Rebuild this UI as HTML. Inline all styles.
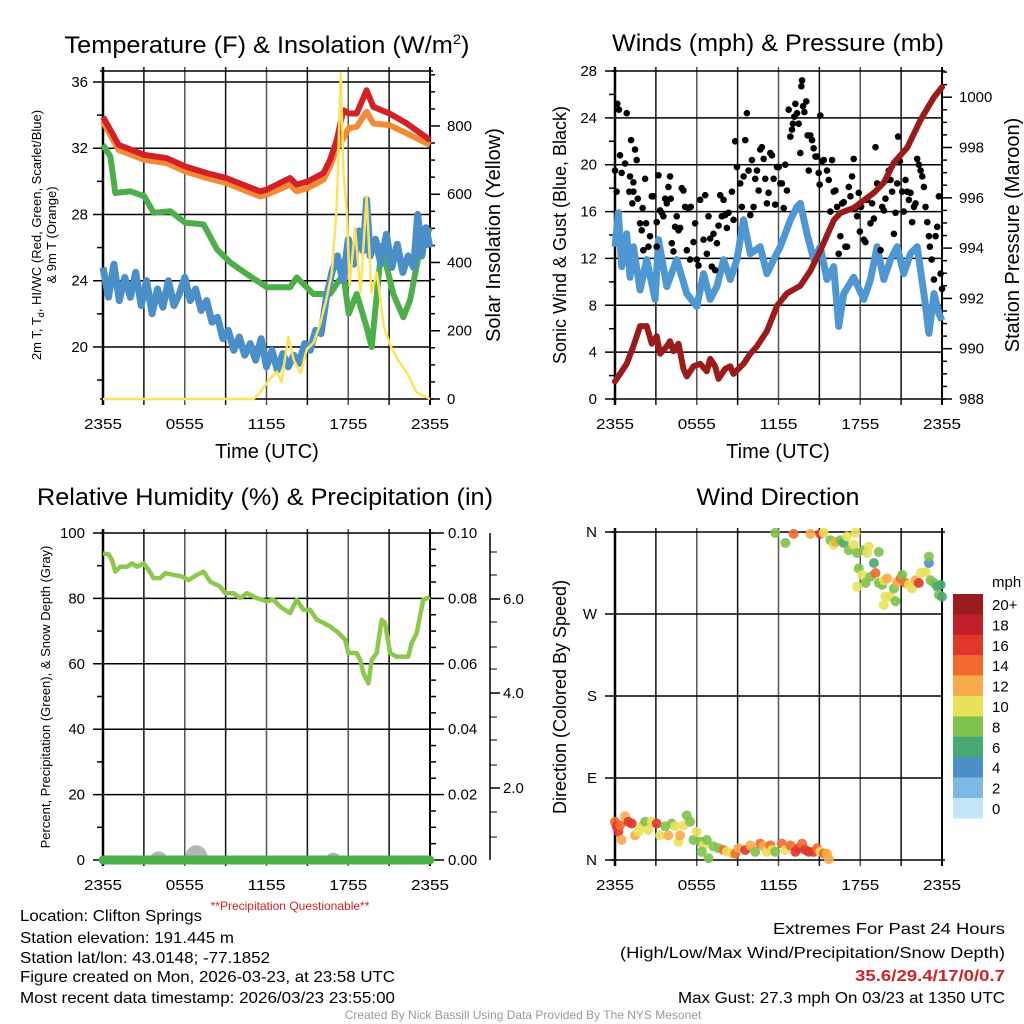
<!DOCTYPE html>
<html><head><meta charset="utf-8"><style>
html,body{margin:0;padding:0;background:#fff;}
svg{display:block;font-family:"Liberation Sans",Arial,sans-serif;}
</style></head><body>
<svg id="fig" width="1024" height="1024" viewBox="0 0 1024 1024" xmlns="http://www.w3.org/2000/svg">
<rect x="0" y="0" width="1024" height="1024" fill="#fff"/>
<!-- titles -->
<text x="267" y="53" font-size="24" text-anchor="middle" textLength="405" lengthAdjust="spacingAndGlyphs">Temperature (F) &amp; Insolation (W/m<tspan font-size="14" dy="-9">2</tspan><tspan dy="9">)</tspan></text>
<text x="778" y="51" font-size="24" text-anchor="middle" textLength="332" lengthAdjust="spacingAndGlyphs">Winds (mph) &amp; Pressure (mb)</text>
<text x="265" y="505" font-size="24" text-anchor="middle" textLength="456" lengthAdjust="spacingAndGlyphs">Relative Humidity (%) &amp; Precipitation (in)</text>
<text x="778" y="505" font-size="24" text-anchor="middle" textLength="163" lengthAdjust="spacingAndGlyphs">Wind Direction</text>
<!-- axis titles -->
<text transform="translate(41,235) rotate(-90)" font-size="13" text-anchor="middle">2m T, T<tspan font-size="9" dy="3">d</tspan><tspan dy="-3">, HI/WC (Red, Green, Scarlet/Blue)</tspan></text>
<text transform="translate(56,235) rotate(-90)" font-size="13" text-anchor="middle">&amp; 9m T (Orange)</text>
<text transform="translate(500,235) rotate(-90)" font-size="20" text-anchor="middle">Solar Insolation (Yellow)</text>
<text x="267" y="458" font-size="20" text-anchor="middle">Time (UTC)</text>
<text transform="translate(566,235) rotate(-90)" font-size="18" text-anchor="middle">Sonic Wind &amp; Gust (Blue, Black)</text>
<text transform="translate(1019,235) rotate(-90)" font-size="20" text-anchor="middle">Station Pressure (Maroon)</text>
<text x="778" y="458" font-size="20" text-anchor="middle">Time (UTC)</text>
<text transform="translate(50,697) rotate(-90)" font-size="13" text-anchor="middle">Percent, Precipitation (Green), &amp; Snow Depth (Gray)</text>
<text transform="translate(566,697) rotate(-90)" font-size="18" text-anchor="middle">Direction (Colored By Speed)</text>
<!-- footer -->
<text x="290" y="910" font-size="12" fill="#d42027" text-anchor="middle">**Precipitation Questionable**</text>
<g font-size="16">
<text x="20" y="921" textLength="182" lengthAdjust="spacingAndGlyphs">Location: Clifton Springs</text>
<text x="20" y="943" textLength="214" lengthAdjust="spacingAndGlyphs">Station elevation: 191.445 m</text>
<text x="20" y="963" textLength="250" lengthAdjust="spacingAndGlyphs">Station lat/lon: 43.0148; -77.1852</text>
<text x="20" y="982" textLength="375" lengthAdjust="spacingAndGlyphs">Figure created on Mon, 2026-03-23, at 23:58 UTC</text>
<text x="20" y="1003" textLength="375" lengthAdjust="spacingAndGlyphs">Most recent data timestamp: 2026/03/23 23:55:00</text>
</g>
<g font-size="16" text-anchor="end">
<text x="1005" y="934" textLength="232" lengthAdjust="spacingAndGlyphs">Extremes For Past 24 Hours</text>
<text x="1005" y="958" textLength="385" lengthAdjust="spacingAndGlyphs">(High/Low/Max Wind/Precipitation/Snow Depth)</text>
<text x="1005" y="981" font-weight="bold" fill="#d42027" textLength="150" lengthAdjust="spacingAndGlyphs">35.6/29.4/17/0/0.7</text>
<text x="1005" y="1003" textLength="327" lengthAdjust="spacingAndGlyphs">Max Gust: 27.3 mph On 03/23 at 1350 UTC</text>
</g>
<text x="523" y="1019" font-size="12" fill="#999" text-anchor="middle">Created By Nick Bassill Using Data Provided By The NYS Mesonet</text>
<text x="992" y="587" font-size="15">mph</text>
</svg>
<script>
// ---- data ----
const xTickLabels = ["2355","0555","1155","1755","2355"];
const tempTicks = [36,32,28,24,20];
const solarTicks = [800,600,400,200,0];
const windTicks = [28,24,20,16,12,8,4,0];
const presTicks = [1000,998,996,994,992,990,988];
const rhTicks = [100,80,60,40,20,0];
const precipTicks = ["0.10","0.08","0.06","0.04","0.02","0.00"];
const snowAxisTicks = ["6.0","4.0","2.0"];
const dirTicks = ["N","W","S","E","N"];
const speedBinLabels = ["20+","18","16","14","12","10","8","6","4","2","0"];
const speedBinColors = ["#9b1b1f","#c1202b","#e0362b","#f26a2d","#f9aa4a","#e8e15a","#7dc24c","#48a872","#4a8fc7","#7db9e3","#c3e5f8"];

const redHours = [0,0.54,1.15,3.03,4.69,6.04,7.62,9.04,10.56,11.53,12.02,13.73,14.22,15.03,16.18,16.67,17.16,17.64,18.03,18.62,19.35,19.84,21.02,22.29,24];
const redTemp = [33.9,33.1,32.2,31.6,31.4,30.9,30.5,30.2,29.7,29.4,29.5,30.2,29.8,30.0,30.5,31.3,32.5,34.3,34.1,34.1,35.5,34.5,34.1,33.5,32.5];
const orangeTemp = [33.6,32.8,31.9,31.3,31.1,30.6,30.2,29.9,29.4,29.1,29.2,29.8,29.4,29.6,30.1,30.9,32.0,32.6,33.2,33.3,34.2,33.5,33.4,32.9,32.2];
const greenHours = [0,0.54,0.9,2.0,3.03,3.72,4.94,6.04,7.38,8.36,9.34,10.56,12.02,13.73,14.22,15.45,16.67,17.64,18.03,18.62,19.35,19.72,20.45,21.31,22.04,22.53,23.26,24];
const greenTemp = [32.2,31.5,29.3,29.4,29.1,28.1,28.2,27.5,27.4,25.9,25.1,24.4,23.6,23.6,24.2,23.2,23.2,24.4,22.0,23.2,21.2,20.0,26.1,23.2,21.8,22.8,25.9,27.2];
const blueHours = [0,0.4,0.8,1.2,1.6,2.0,2.4,2.8,3.2,3.6,4.0,4.4,4.8,5.2,5.6,6.0,6.4,6.8,7.2,7.6,8.0,8.4,8.8,9.2,9.6,10.0,10.4,10.8,11.2,11.6,12.0,12.4,12.8,13.2,13.6,14.0,14.4,14.8,15.2,15.6,16.0,16.4,16.8,17.2,17.6,18.0,18.4,18.8,19.1,19.35,19.6,20.0,20.4,20.8,21.2,21.6,22.0,22.4,22.8,23.1,23.4,23.7,24];
const blueTemp = [24.8,23.0,25.0,22.8,24.2,23.0,24.5,22.5,24.0,22.0,23.5,22.4,24.0,22.5,23.2,24.2,22.8,23.5,22.2,22.8,21.5,21.8,20.5,21.0,19.8,20.6,19.5,20.2,19.2,20.5,18.8,19.8,18.6,19.6,18.8,19.5,19.0,20.2,19.8,21.0,20.8,23.0,24.5,25.5,24.0,26.5,25.0,27.0,25.8,28.9,25.5,26.5,25.0,26.8,24.8,26.2,24.5,25.5,24.8,28.0,25.5,27.2,26.0];
const solarHours = [0,11.05,11.5,12.27,12.76,13.1,13.6,14.0,14.5,14.96,15.45,15.9,16.4,16.8,17.16,17.45,17.65,17.9,18.1,18.5,18.9,19.35,19.7,20.1,20.6,21.1,21.6,22.3,23.0,24];
const solarVals = [0,0,18,60,80,50,183,114,75,146,165,214,292,370,566,954,664,546,332,500,312,593,312,370,214,156,117,78,20,0];

const windHours = [0,0.25,0.49,0.86,1.10,1.35,1.84,2.33,2.94,3.19,3.80,4.53,5.27,6.0,6.5,6.99,7.48,7.97,8.46,8.95,9.44,9.93,10.66,11.15,11.64,12.13,12.87,13.36,13.60,14.09,14.58,15.07,15.56,16.05,16.42,16.79,17.52,18.26,18.75,19.24,19.73,20.22,20.71,21.20,21.69,22.18,22.67,23.04,23.41,23.77,24];
const windMph = [13.0,15.9,11.3,14.1,10.4,13.0,9.3,11.9,8.5,13.6,9.6,11.9,9.0,7.9,10.7,8.5,9.6,11.9,10.2,11.9,15.3,12.4,13.0,10.7,11.9,13.0,15.3,16.4,16.7,14.1,11.9,13.0,10.2,11.3,6.2,9.0,10.4,8.5,10.2,13.0,10.2,11.9,13.0,10.7,12.4,13.0,9.0,5.6,9.0,7.3,6.7];
const gustHours = [0.0,0.12,0.17,0.29,0.37,0.49,0.74,0.86,1.05,1.10,1.18,1.27,1.35,1.35,1.47,1.59,1.67,1.84,1.96,2.03,2.08,2.21,2.28,2.45,2.57,2.70,2.82,3.06,3.06,3.19,3.31,3.43,3.55,3.68,3.80,3.92,4.04,4.09,4.17,4.29,4.41,4.53,4.66,4.78,4.90,5.02,5.15,5.27,5.39,5.51,5.56,5.76,5.88,6.00,6.13,6.25,6.50,6.62,6.74,6.86,6.99,7.11,7.23,7.35,7.48,7.60,7.72,7.84,7.97,8.09,8.21,8.33,8.58,8.70,8.82,8.95,9.19,9.31,9.44,9.56,9.68,9.80,9.93,10.05,10.17,10.29,10.42,10.54,10.66,10.78,10.91,11.03,11.15,11.27,11.40,11.52,11.64,11.76,11.89,12.01,12.13,12.25,12.38,12.50,12.62,12.75,12.87,12.99,13.06,13.16,13.24,13.36,13.48,13.60,13.68,13.73,13.80,13.90,14.04,14.14,14.22,14.34,14.46,14.58,14.71,14.83,14.95,15.02,15.07,15.20,15.32,15.56,15.69,15.81,15.93,16.05,16.18,16.30,16.42,16.54,16.67,16.79,16.91,17.03,17.16,17.28,17.40,17.52,17.65,17.77,17.89,17.97,18.06,18.26,18.38,18.50,18.75,18.87,19.00,19.12,19.24,19.36,19.49,19.61,19.73,19.85,19.98,20.10,20.22,20.34,20.47,20.59,20.71,20.78,20.91,21.08,21.20,21.32,21.45,21.57,21.69,21.81,21.94,22.06,22.18,22.30,22.43,22.55,22.67,22.79,22.92,23.04,23.11,23.24,23.41,23.53,23.65,23.77,23.90,24.0];
const gustMph = [19.5,17.7,25.2,24.7,20.8,19.3,20.1,24.4,17.7,19.0,22.1,16.7,18.5,17.7,21.3,20.4,17.1,15.0,14.4,16.3,12.7,18.8,15.0,13.0,13.9,17.3,17.3,15.1,13.0,19.1,16.1,15.9,15.6,17.1,16.7,18.1,19.0,17.1,13.3,12.6,14.7,15.6,14.4,14.6,18.0,17.8,16.4,12.7,16.3,11.9,16.4,13.4,15.0,11.9,11.4,17.0,13.6,17.4,12.4,15.6,13.7,11.3,14.1,11.0,13.3,14.8,17.4,15.6,17.0,15.7,14.6,15.9,17.7,15.3,22.0,19.8,18.4,16.4,19.0,22.1,24.4,19.5,15.7,20.4,16.4,18.8,19.5,17.8,21.3,21.5,20.5,18.8,16.7,17.6,21.0,20.8,18.8,16.6,19.8,19.8,18.4,18.4,16.3,20.0,17.8,24.7,22.4,23.0,23.5,24.1,25.2,24.4,23.5,21.0,26.7,27.2,25.0,24.5,25.4,22.5,19.5,22.5,22.1,21.4,20.7,20.7,19.3,18.3,24.2,20.3,20.4,19.5,18.7,16.0,20.4,17.7,17.8,16.4,12.4,13.9,16.7,16.8,13.0,13.0,18.1,17.3,19.0,20.5,16.3,15.6,17.6,14.3,16.4,13.6,13.4,17.0,15.0,16.7,15.4,21.5,18.4,18.3,12.7,16.4,16.1,17.1,18.7,19.5,18.7,17.7,14.1,15.9,18.4,22.4,20.3,17.7,16.0,18.7,17.7,17.0,17.6,15.1,16.4,16.7,20.5,20.0,19.5,19.0,18.1,16.4,15.1,13.9,13.0,11.9,10.2,13.9,14.7,17.3,10.7,9.4];
const presHours = [0,0.37,0.86,1.35,1.84,2.33,2.70,3.06,3.31,3.80,4.04,4.29,4.66,5.02,5.27,5.76,6.25,6.74,6.99,7.35,7.60,8.09,8.46,8.70,9.44,9.93,10.42,11.15,11.89,12.62,13.60,14.34,15.07,16.05,16.54,17.52,18.26,19.0,19.73,20.47,21.45,22.43,23.41,24];
const presMb = [988.7,989.0,989.4,990.1,990.9,990.9,990.2,990.5,989.8,990.1,990.3,989.9,990.2,989.2,988.9,989.3,989.4,989.1,989.6,989.3,988.8,989.2,989.3,989.0,989.4,989.8,990.1,990.7,991.7,992.2,992.5,993.1,993.9,995.1,995.4,995.6,995.9,996.2,996.6,997.4,998.0,999.1,1000.0,1000.4];

const rhHours = [0,0.42,0.66,0.9,1.27,1.76,2.13,2.49,2.98,3.35,3.71,4.2,4.57,5.18,5.79,6.28,6.89,7.38,7.87,8.6,8.97,9.58,10.07,10.56,11.29,12.02,12.51,13.0,13.73,14.22,14.71,15.2,15.69,16.18,16.67,17.16,17.77,18.01,18.62,18.87,19.11,19.48,19.72,20.09,20.45,20.7,21.07,21.55,22.04,22.41,22.65,23.02,23.51,24];
const rhVals = [93.8,93.5,91.7,88.2,89.7,89.7,90.7,89.7,90.7,88.7,86.2,86.2,87.7,87.2,86.7,85.6,87.2,88.2,85.1,83.6,81.6,81.6,80.1,81.6,80.1,79.1,79.6,77.5,75.5,79.6,76.5,76.5,73.5,72.5,71.4,69.9,67.4,63.3,63.3,61.2,57.1,54.0,61.2,63.3,73.5,72.5,63.3,62.2,62.2,62.2,66.3,69.3,79.6,80.4];
const precipHours = [0,24];
const precipVals = [0,0];
const snowHours = [4.08,6.85,16.9];
const snowVals = [3.5,6.0,3.0];
const snowDurations = [1.25,1.7,1.1];

const dirHours = [0.00,0.12,0.25,0.37,0.49,0.74,0.98,1.23,1.47,1.72,1.96,2.21,2.45,2.70,3.06,3.31,3.68,3.92,4.17,4.41,4.66,4.78,5.02,5.27,5.51,5.76,6.00,6.25,6.50,6.74,6.37,6.86,7.23,7.60,7.97,8.21,8.58,8.82,9.07,9.56,9.93,10.29,10.66,10.91,11.15,11.40,11.52,11.76,12.25,12.50,12.87,13.24,13.48,13.73,13.97,14.22,14.58,14.83,15.07,15.32,15.56,15.69,
 11.76,12.50,13.11,14.34,15.07,15.32,15.81,16.05,16.18,16.54,16.79,17.03,17.16,17.52,17.65,17.77,18.26,18.50,18.63,19.00,19.36,17.89,18.14,18.38,18.75,19.12,19.36,19.61,19.73,19.98,17.77,19.85,20.22,20.59,20.47,19.73,20.71,20.96,21.08,21.32,21.57,21.81,22.06,22.30,22.43,22.79,23.04,23.04,23.16,23.41,23.65,23.90,23.77,24.0];
const dirDeg = [42,37,31,38,22,48,42,40,27,31,37,42,33,42,40,27,37,27,40,37,20,27,38,49,42,22,31,20,16,22,9,2,15,13,11,9,7,7,13,11,16,9,18,15,9,16,11,9,18,11,16,9,13,18,11,9,9,13,9,7,7,1,
 359,348,358,358,358,359,351,346,349,351,348,355,340,346,359,337,340,337,344,326,338,320,313,304,311,315,304,302,307,309,300,289,289,284,298,280,305,309,313,304,302,298,307,304,315,316,326,333,307,304,300,302,291,289];
const dirSpeed = [15,17,17,15,13,13,17,17,13,11,11,9,11,11,17,11,9,13,9,11,11,13,11,9,9,9,11,9,11,9,9,9,9,9,15,11,11,15,13,17,13,9,15,13,11,15,11,9,15,11,15,17,17,15,17,17,17,15,11,15,13,13,
 9,9,15,13,17,11,9,11,13,9,7,11,9,11,11,9,9,11,11,7,9,9,11,9,9,15,9,9,11,13,11,11,11,9,9,11,13,15,9,15,11,11,13,17,11,11,5,9,9,9,7,7,9,7];

// ---- helpers ----
const NS = "http://www.w3.org/2000/svg";
const svg = document.getElementById("fig");
function el(tag, attrs, parent){ const e=document.createElementNS(NS,tag); for(const k in attrs) e.setAttribute(k,attrs[k]); (parent||svg).appendChild(e); return e; }
function txt(x,y,s,size,anchor,parent){ const t=el("text",{x:x,y:y,"font-size":size,"text-anchor":anchor},parent); t.textContent=s; return t; }
function linePath(xs,ys){ return xs.map((x,i)=>(i?"L":"M")+x.toFixed(1)+","+ys[i].toFixed(1)).join(""); }

const P1={x0:103,x1:430,y0:71,y1:399}, P2={x0:615,x1:942,y0:71,y1:399}, P3={x0:103,x1:430,y0:533,y1:860}, P4={x0:615,x1:942,y0:532,y1:860};
function xS(P,h){ return P.x0 + h/24*(P.x1-P.x0); }
const yTemp = v => 82 + (36-v)*16.56;
const ySolar = v => 399 - v*0.3413;
const yWind = v => 399 - v*11.714;
const yPres = p => 399 - (p-988)*25.15;
const yRh = v => 860 - v*3.27;
const yPrecip = v => 860 - v*3270;
const yDir = d => 860 - d*0.9111;

function drawFrame(P, name){
  const g=el("g",{stroke:"#000","stroke-width":1.5,fill:"none"});
  
  
  for(let h=3;h<24;h+=3){ const x=xS(P,h); el("line",{x1:x,y1:P.y0-4,x2:x,y2:P.y1+6,stroke:(h%6===0?"#555":"#111")},g); }
  el("line",{x1:P.x0,y1:P.y0-4,x2:P.x0,y2:P.y1+6,"stroke-width":2.5},g);
  el("line",{x1:P.x1,y1:P.y0-4,x2:P.x1,y2:P.y1+6,"stroke-width":2},g);
  el("line",{x1:P.x0-3,y1:P.y0,x2:P.x1+3,y2:P.y0},g);
  el("line",{x1:P.x0-3,y1:P.y1,x2:P.x1+3,y2:P.y1},g);
  const lg=el("g",{"font-size":15,fill:"#000"});
  
  
  xTickLabels.forEach((s,i)=>{ const t=txt(xS(P,i*6),P.y1+30,s,15,"middle",lg); t.setAttribute("textLength","38"); t.setAttribute("lengthAdjust","spacingAndGlyphs"); });
  return g;
}
function hGrid(g,P,y){ el("line",{x1:P.x0-10,y1:y,x2:P.x1,y2:y},g); }
function lTick(g,P,y,len){ el("line",{x1:P.x0-len,y1:y,x2:P.x0,y2:y},g); }
function rTick(g,P,y,len){ el("line",{x1:P.x1,y1:y,x2:P.x1+len,y2:y},g); }

// ---- Panel 1 ----
let g=drawFrame(P1,"temperature");
tempTicks.forEach(v=>hGrid(g,P1,yTemp(v)));
for(let v=18;v<=36;v+=2) if(v%4) lTick(g,P1,yTemp(v),6);
for(let v=0;v<=950;v+=50) rTick(g,P1,ySolar(v), v%200===0?10:5);
let lab=el("g",{"font-size":15});


tempTicks.forEach(v=>txt(88,yTemp(v)+5,String(v),15,"end",lab));
lab=el("g",{"font-size":15});


solarTicks.forEach(v=>txt(447,ySolar(v)+5,String(v),15,"start",lab));
let clip=el("clipPath",{id:"c1"}); el("rect",{x:P1.x0-4,y:P1.y0,width:P1.x1-P1.x0+8,height:P1.y1-P1.y0+4},clip);
let s;
s=el("path",{d:linePath(greenHours.map(h=>xS(P1,h)),greenTemp.map(yTemp)),stroke:"#4daf4a","stroke-width":6,fill:"none","stroke-linejoin":"round","clip-path":"url(#c1)"});


s=el("path",{d:linePath(blueHours.map(h=>xS(P1,h)),blueTemp.map(yTemp)),stroke:"#4a8fc8","stroke-width":7,fill:"none","stroke-linejoin":"round","clip-path":"url(#c1)"});


s=el("path",{d:linePath(redHours.map(h=>xS(P1,h)),orangeTemp.map(yTemp)),stroke:"#f68a32","stroke-width":6,fill:"none","stroke-linejoin":"round","clip-path":"url(#c1)"});


s=el("path",{d:linePath(redHours.map(h=>xS(P1,h)),redTemp.map(yTemp)),stroke:"#d42027","stroke-width":6,fill:"none","stroke-linejoin":"round","clip-path":"url(#c1)"});


s=el("path",{d:linePath(solarHours.map(h=>xS(P1,h)),solarVals.map(ySolar)),stroke:"#fde35c","stroke-width":2.5,fill:"none","stroke-linejoin":"round","clip-path":"url(#c1)"});



// ---- Panel 2 ----
g=drawFrame(P2,"winds");
windTicks.forEach(v=>{ if(v>0&&v<28) hGrid(g,P2,yWind(v)); else lTick(g,P2,yWind(v),10); });
for(let v=2;v<28;v+=4) lTick(g,P2,yWind(v),6);
for(let p=988;p<=1001;p+=0.5) rTick(g,P2,yPres(p), (p%2===0)?10:5);
lab=el("g",{"font-size":15});


windTicks.forEach(v=>txt(597,yWind(v)+5,String(v),15,"end",lab));
lab=el("g",{"font-size":15});


presTicks.forEach(p=>txt(959,yPres(p)+5,String(p),15,"start",lab));
clip=el("clipPath",{id:"c2"}); el("rect",{x:P2.x0-4,y:P2.y0,width:P2.x1-P2.x0+8,height:P2.y1-P2.y0+4},clip);
s=el("path",{d:linePath(windHours.map(h=>xS(P2,h)),windMph.map(yWind)),stroke:"#4f97d3","stroke-width":7,fill:"none","stroke-linejoin":"round","clip-path":"url(#c2)"});


const gg=el("g",{fill:"#000"});


gustHours.forEach((h,i)=>{ const c=el("circle",{cx:xS(P2,h),cy:yWind(gustMph[i]),r:3.3},gg);
  
   });
s=el("path",{d:linePath(presHours.map(h=>xS(P2,h)),presMb.map(yPres)),stroke:"#9b1b1b","stroke-width":6,fill:"none","stroke-linejoin":"round","stroke-linecap":"round","clip-path":"url(#c2)"});



// ---- Panel 3 ----
g=drawFrame(P3,"humidity");
rhTicks.forEach(v=>{ if(v>0&&v<100) hGrid(g,P3,yRh(v)); else lTick(g,P3,yRh(v),10); });
for(let v=10;v<100;v+=20) lTick(g,P3,yRh(v),6);
for(let v=0;v<=0.1001;v+=0.005) rTick(g,P3,yPrecip(v), (Math.round(v*1000)%20===0)?14:6);
el("line",{x1:490,y1:533,x2:490,y2:860,stroke:"#000","stroke-width":1.5});
[552,575,622,647,669,717,740,765,812,837].forEach(y=>el("line",{x1:490,y1:y,x2:497,y2:y,stroke:"#000","stroke-width":1}));
[599,693,788].forEach(y=>el("line",{x1:490,y1:y,x2:500,y2:y,stroke:"#000","stroke-width":1.5}));
lab=el("g",{"font-size":15});


rhTicks.forEach(v=>txt(85,yRh(v)+5,String(v),15,"end",lab));
lab=el("g",{"font-size":15});


precipTicks.forEach(v=>txt(448,yPrecip(parseFloat(v))+5,v,15,"start",lab));
lab=el("g",{"font-size":15});


[599,693,788].forEach((y,i)=>txt(503,y+5,snowAxisTicks[i],15,"start",lab));
const sg=el("g",{fill:"#b5b5b5"});


snowHours.forEach((h,i)=>{ const xa=xS(P3,h-snowDurations[i]/2), xb=xS(P3,h+snowDurations[i]/2), xc=xS(P3,h);
  const p=el("path",{d:`M${xa},860 C${xa},${yRh(snowVals[i])} ${xb},${yRh(snowVals[i])} ${xb},860 Z`},sg);
  
   });
s=el("path",{d:linePath(rhHours.map(h=>xS(P3,h)),rhVals.map(yRh)),stroke:"#8cc84b","stroke-width":4.5,fill:"none","stroke-linejoin":"round"});


s=el("path",{d:linePath(precipHours.map(h=>xS(P3,h)),precipVals.map(yPrecip)),stroke:"#4bae4a","stroke-width":9,fill:"none","stroke-linecap":"round"});



// ---- Panel 4 ----
g=drawFrame(P4,"direction");
[0,90,180,270,360].forEach(d=>{ if(d>0&&d<360) hGrid(g,P4,yDir(d)); else lTick(g,P4,yDir(d),10); });
lab=el("g",{"font-size":15});


dirTicks.forEach((s2,i)=>txt(597,yDir(360-i*90)+5,s2,15,"end",lab));
const dg=el("g",{"fill-opacity":0.9});


dirHours.forEach((h,i)=>{ const bin=Math.min(10,Math.floor(dirSpeed[i]/2)); const col=speedBinColors[10-bin];
  const c=el("circle",{cx:xS(P4,h),cy:yDir(dirDeg[i]),r:5,fill:col},dg);
  
   });
// colorbar
const cb=el("g",{});


speedBinColors.forEach((c,i)=>{ const r=el("rect",{x:953,y:594+i*20.4,width:30,height:20.6,fill:c},cb);
  
  
  txt(992,594+i*20.4+16,speedBinLabels[i],15,"start",cb); });
</script>
</body></html>
